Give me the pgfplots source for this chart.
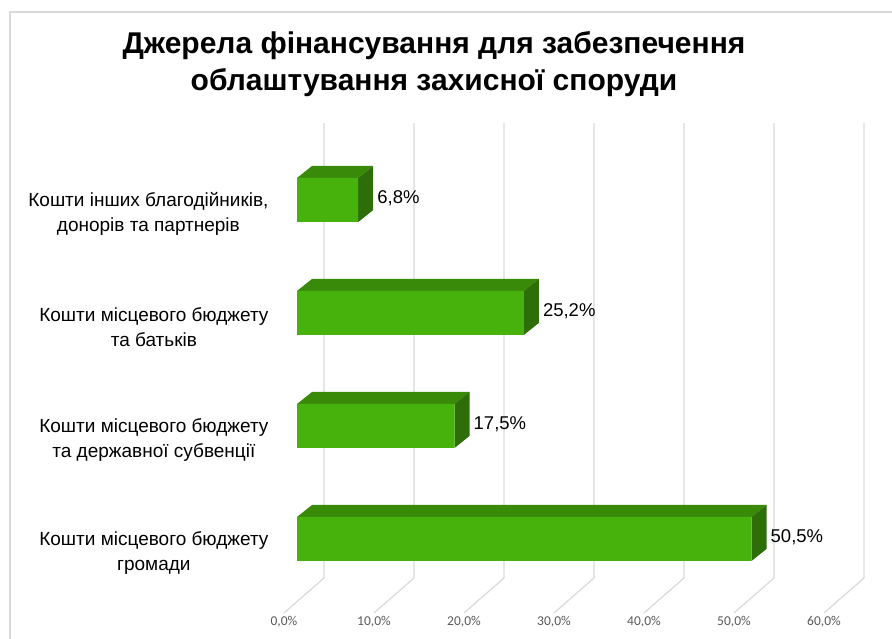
\documentclass[border=0pt]{standalone}
\usepackage{pgfplots}
\pgfplotsset{compat=1.18}
\usepackage{pgfplotstable}
\usepackage{fontspec}
\setmainfont{Liberation Sans}
\newfontfamily\calib{Carlito}
\definecolor{front}{RGB}{71,178,12}
\definecolor{topc}{RGB}{58,138,10}
\definecolor{sidec}{RGB}{45,110,8}
\definecolor{gridc}{RGB}{217,217,217}
\definecolor{tickc}{RGB}{89,89,89}
\pgfplotstableread{
y v
0 50.5
1 17.5
2 25.2
3 6.8
}\data
\begin{document}
\begin{tikzpicture}[x=1pt,y=1pt]
\begin{axis}[
  at={(0,0)}, anchor=south west,
  x=9pt, y=113pt, scale only axis,
  xmin=-33, xmax=66.1111, ymin=-0.88496, ymax=4.76991,
  hide axis, clip=false,
]
% chart frame
\addplot[gridc, line width=1.2pt] coordinates {(-31.889,-0.88496) (-31.889,4.6637) (66.1111,4.6637)};
% back wall grid lines and floor lines
\addplot[gridc, line width=1.2pt] coordinates {(3,3.681) (3,-0.345) (-1.444,-0.655)};
\addplot[gridc, line width=1.2pt] coordinates {(13,3.681) (13,-0.345) (8.556,-0.655)};
\addplot[gridc, line width=1.2pt] coordinates {(23,3.681) (23,-0.345) (18.556,-0.655)};
\addplot[gridc, line width=1.2pt] coordinates {(33,3.681) (33,-0.345) (28.556,-0.655)};
\addplot[gridc, line width=1.2pt] coordinates {(43,3.681) (43,-0.345) (38.556,-0.655)};
\addplot[gridc, line width=1.2pt] coordinates {(53,3.681) (53,-0.345) (48.556,-0.655)};
\addplot[gridc, line width=1.2pt] coordinates {(63,3.681) (63,-0.345) (58.556,-0.655)};
% top faces
\addplot[fill=topc, draw=none] coordinates {(0,0.1947) (50.5,0.1947) (52.1667,0.3009) (1.6667,0.3009)} --cycle;
\addplot[fill=topc, draw=none] coordinates {(0,1.1947) (17.5,1.1947) (19.1667,1.3009) (1.6667,1.3009)} --cycle;
\addplot[fill=topc, draw=none] coordinates {(0,2.1947) (25.2,2.1947) (26.8667,2.3009) (1.6667,2.3009)} --cycle;
\addplot[fill=topc, draw=none] coordinates {(0,3.1947) (6.8,3.1947) (8.4667,3.3009) (1.6667,3.3009)} --cycle;
% side faces
\addplot[fill=sidec, draw=none] coordinates {(50.5,-0.1947) (52.1667,-0.0885) (52.1667,0.3009) (50.5,0.1947)} --cycle;
\addplot[fill=sidec, draw=none] coordinates {(17.5,0.8053) (19.1667,0.9115) (19.1667,1.3009) (17.5,1.1947)} --cycle;
\addplot[fill=sidec, draw=none] coordinates {(25.2,1.8053) (26.8667,1.9115) (26.8667,2.3009) (25.2,2.1947)} --cycle;
\addplot[fill=sidec, draw=none] coordinates {(6.8,2.8053) (8.4667,2.9115) (8.4667,3.3009) (6.8,3.1947)} --cycle;
% front faces
\addplot[xbar, bar width=0.3894, fill=front, draw=none, point meta=x,
  nodes near coords={\pgfmathprintnumber[fixed,fixed zerofill,precision=1,use comma,assume math mode=true]{\pgfplotspointmeta}\%},
  every node near coord/.append style={anchor=west, xshift=16pt, yshift=1.5pt, inner sep=3pt, font=\fontsize{18.5}{22}\selectfont, text=black}
  ] table[x=v, y=y] {\data};
% tick labels
\foreach \k/\lab in {0/0,1/10,2/20,3/30,4/40,5/50,6/60}{
  \edef\temp{\noexpand\node[font=\noexpand\calib\noexpand\fontsize{13.5}{15}\noexpand\selectfont, text=tickc] at (axis cs:{-1.444+10*\k},-0.7345) {\lab,0\noexpand\%};}
  \temp
}
% category labels
\node[anchor=east, align=center, font=\fontsize{19}{25}\selectfont] at (axis cs:-2.778,-0.125) {Кошти місцевого бюджету\\громади};
\node[anchor=east, align=center, font=\fontsize{19}{25}\selectfont] at (axis cs:-2.778,0.875) {Кошти місцевого бюджету\\та державної субвенції};
\node[anchor=east, align=center, font=\fontsize{19}{25}\selectfont] at (axis cs:-2.778,1.875) {Кошти місцевого бюджету\\та батьків};
\node[anchor=east, align=center, font=\fontsize{19}{25}\selectfont] at (axis cs:-2.778,2.875) {Кошти інших благодійників,\\донорів та партнерів};
% title
\node[anchor=base, font=\bfseries\fontsize{30}{34}\selectfont] at (axis cs:15.222,4.292) {Джерела фінансування для забезпечення};
\node[anchor=base, font=\bfseries\fontsize{30}{34}\selectfont] at (axis cs:15.222,3.965) {облаштування захисної споруди};
\end{axis}
\pgfresetboundingbox
\useasboundingbox (0,0) rectangle (892,639);
\end{tikzpicture}
\end{document}
